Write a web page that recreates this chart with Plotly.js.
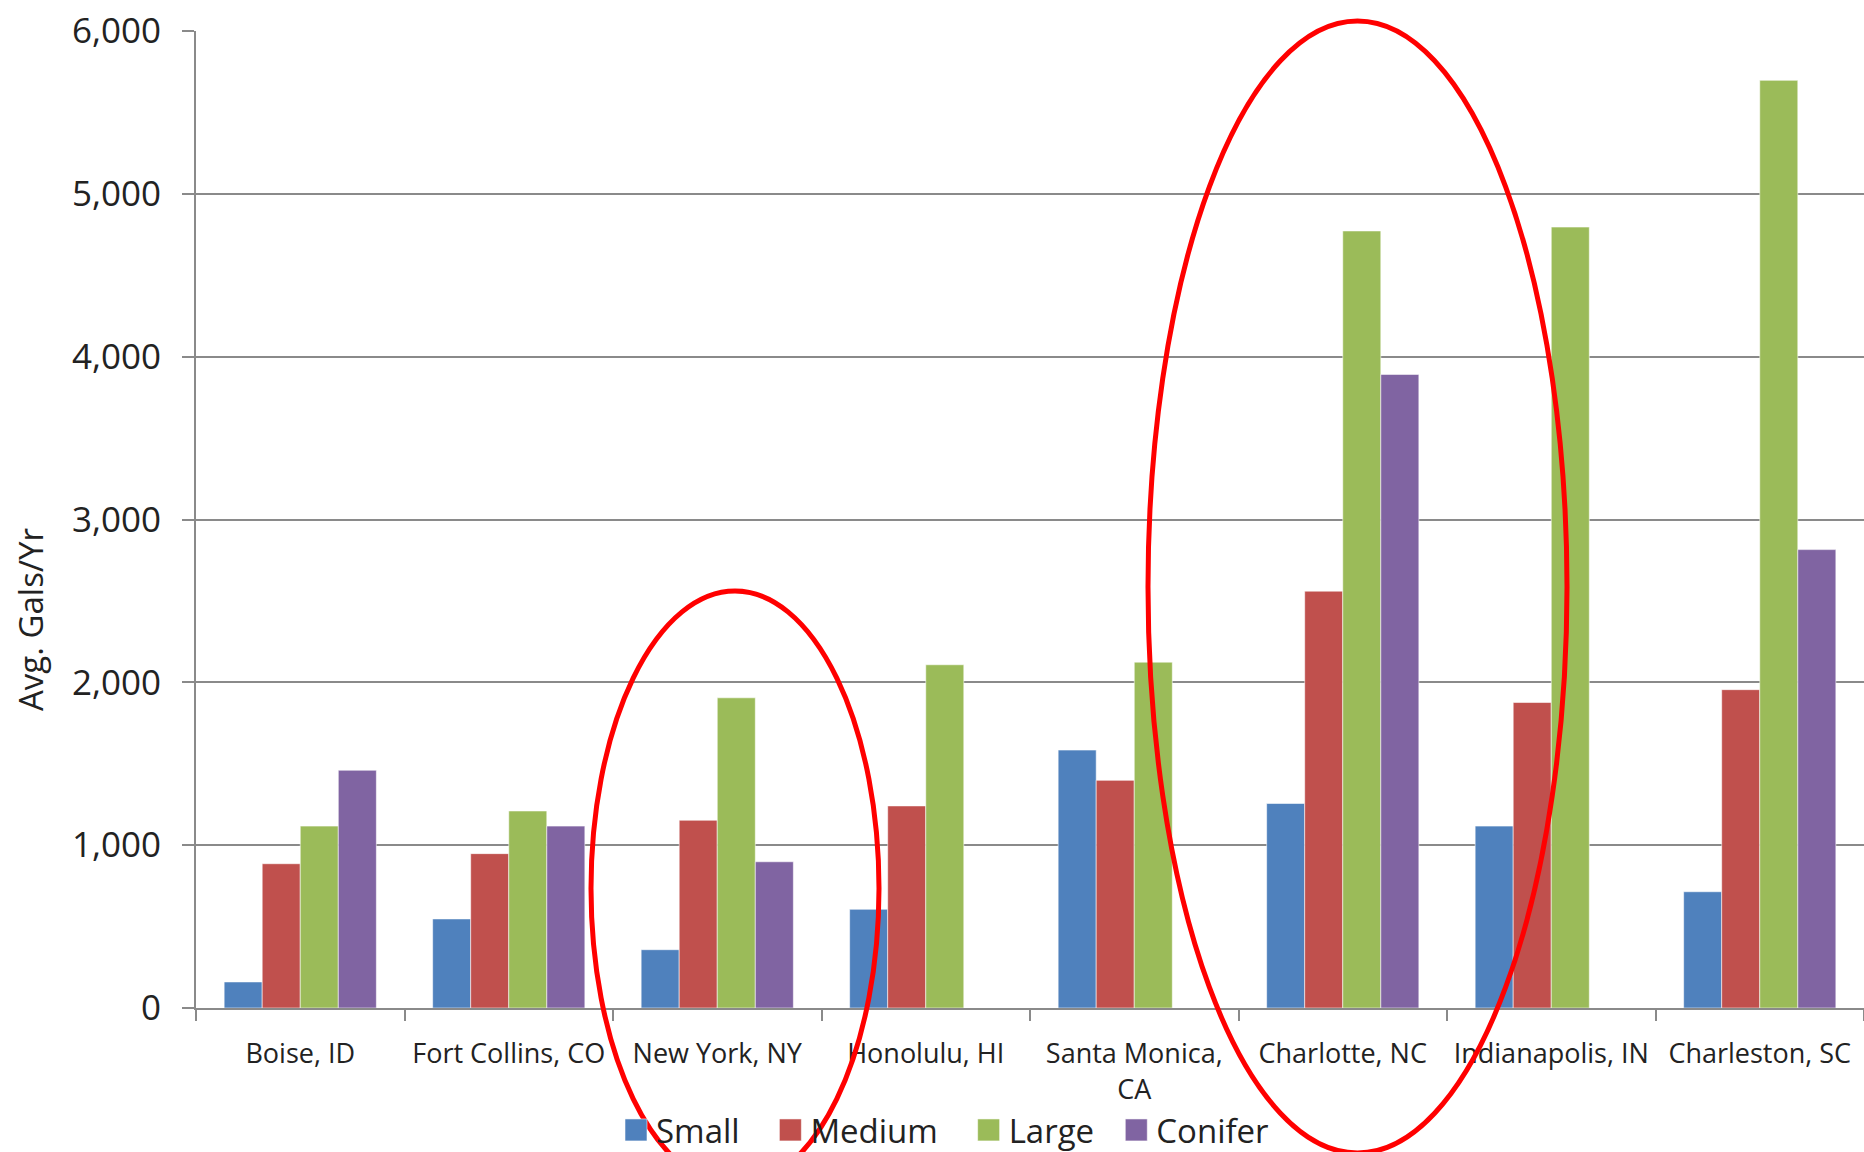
<!DOCTYPE html>
<html>
<head>
<meta charset="utf-8">
<script src="https://cdn.plot.ly/plotly-3.0.1.min.js"></script>
<style>
  html, body { margin: 0; padding: 0; background: #fff; }
  #chart { width: 1864px; height: 1152px; }
</style>
</head>
<body>
<div id="chart"></div>
<script>
// Average gallons per year intercepted, by tree size and city
const cities = [
  'Boise, ID', 'Fort Collins, CO', 'New York, NY', 'Honolulu, HI',
  'Santa Monica,<br>CA', 'Charlotte, NC', 'Indianapolis, IN', 'Charleston, SC'
];
const small   = [160, 547, 358, 606, 1584, 1256, 1117, 714];
const medium  = [886, 948, 1153, 1241, 1398, 2560, 1876, 1955];
const large   = [1117, 1210, 1905, 2108, 2124, 4772, 4796, 5697];
const conifer = [1460, 1117, 898, null, null, 3891, null, 2815];

const seriesNames  = ['Small', 'Medium', 'Large', 'Conifer'];
const seriesValues = [small, medium, large, conifer];
const seriesColors = ['#4F81BD', '#C0504D', '#9BBB59', '#8064A2'];

const FONT = '"Open Sans", "Noto Sans", sans-serif';
const INK = '#222222';
const GRID = '#8a8a8a';
const NBSP = '\u00a0';
// trailing non-breaking spaces widen the gap after each legend entry
const legendPad = [3, 3, 2, 0];

const traces = seriesNames.map((name, i) => ({
  type: 'bar',
  name: name + NBSP.repeat(legendPad[i]),
  x: cities,
  y: seriesValues[i],
  marker: {
    color: seriesColors[i],
    line: { color: 'rgba(255,255,255,0.55)', width: 1 }
  },
  hovertemplate: '%{x}<br>' + name + ': %{y:,}<extra></extra>'
}));

// plot-area geometry in pixels, used to place the free-floating pieces
const W = 1864, H = 1152;
const L = 196, R = 0, T = 31, B = 144;
const pw = W - L - R, ph = H - T - B;
const px = X => (X - L) / pw;
const py = Y => (H - B - Y) / ph;

const layout = {
  width: W,
  height: H,
  margin: { l: L, r: R, t: T, b: B, pad: 0, autoexpand: false },
  paper_bgcolor: '#ffffff',
  plot_bgcolor: '#ffffff',
  font: { family: FONT, color: INK },
  barmode: 'group',
  bargap: 0.27,
  bargroupgap: 0,
  showlegend: true,
  legend: {
    orientation: 'h',
    xref: 'container',
    yref: 'container',
    x: 616 / W,
    xanchor: 'left',
    y: 1 - 1130 / H,
    yanchor: 'middle',
    font: { family: FONT, size: 33, color: INK },
    bgcolor: 'rgba(0,0,0,0)',
    traceorder: 'normal'
  },
  xaxis: {
    type: 'category',
    showgrid: false,
    showline: true,
    linecolor: GRID,
    linewidth: 2,
    ticks: 'outside',
    tickson: 'boundaries',
    ticklen: 11,
    tickwidth: 2,
    tickcolor: GRID,
    tickangle: 0,
    ticklabelstandoff: 21,
    tickfont: { family: FONT, size: 27, color: INK },
    fixedrange: true
  },
  yaxis: {
    range: [0, 6000],
    dtick: 1000,
    tick0: 0,
    tickformat: ',d',
    showgrid: true,
    gridcolor: GRID,
    gridwidth: 2,
    zeroline: false,
    showline: true,
    linecolor: GRID,
    linewidth: 2,
    ticks: 'outside',
    ticklen: 12,
    tickwidth: 2,
    tickcolor: GRID,
    ticklabelstandoff: 14,
    tickfont: { family: FONT, size: 35, color: INK },
    fixedrange: true
  },
  annotations: [{
    text: 'Avg. Gals/Yr',
    xref: 'paper', yref: 'paper',
    x: px(30), y: py(620),
    xanchor: 'center', yanchor: 'middle',
    textangle: -90,
    showarrow: false,
    font: { family: FONT, size: 33, color: INK }
  }],
  shapes: [
    {
      type: 'circle', xref: 'paper', yref: 'paper', layer: 'above',
      x0: px(591), x1: px(879), y0: py(591), y1: py(1186),
      line: { color: '#ff0000', width: 5 }
    },
    {
      type: 'circle', xref: 'paper', yref: 'paper', layer: 'above',
      x0: px(1148), x1: px(1567), y0: py(21), y1: py(1153),
      line: { color: '#ff0000', width: 5 }
    }
  ]
};

Plotly.newPlot('chart', traces, layout, { displayModeBar: false, staticPlot: true })
  .then(gd => {
    // larger square swatches in the legend
    gd.querySelectorAll('.legendpoints path').forEach(p => {
      p.setAttribute('d', 'M11,11H-11V-11H11Z');
    });
  });
</script>
</body>
</html>
